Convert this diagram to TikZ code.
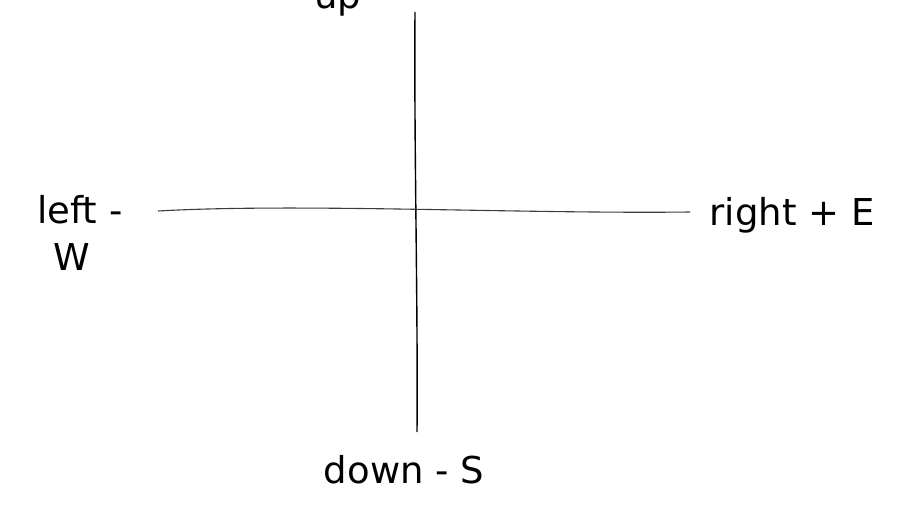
\documentclass[tikz,border=0pt]{standalone}
\usepackage{fontspec}
\setmainfont{DejaVu Sans}
\tikzset{hand/.style={font=\fontsize{37}{44}\selectfont, inner sep=0pt}}
\begin{document}
\begin{tikzpicture}[x=1pt,y=1pt,yscale=-1,xscale=1]
\useasboundingbox (0,0) rectangle (916,508);

% Axis ends
\coordinate (top) at (415,12);
\coordinate (bottom) at (417,432);
\coordinate (west) at (158,211);
\coordinate (east) at (690,212);

%Straight Lines [id:vertical]
\draw [line width=1.4]    (top) .. controls (414,150) and (418,300) .. (bottom) ;
%Straight Lines [id:horizontal]
\draw [line width=1.1, color={rgb, 255:red, 60; green, 60; blue, 60 }]    (west) .. controls (300,203) and (520,214) .. (east) ;

% Text Node
\draw (338,9) node [hand, anchor=base] (up) {up};
% Text Node
\draw (80,223) node [hand, anchor=base] (left) {left -};
% Text Node
\draw (72,270) node [hand, anchor=base] (w) {W};
% Text Node
\draw (792,225) node [hand, anchor=base] (right) {right + E};
% Text Node
\draw (404,483) node [hand, anchor=base] (down) {down - S};

\end{tikzpicture}
\end{document}
